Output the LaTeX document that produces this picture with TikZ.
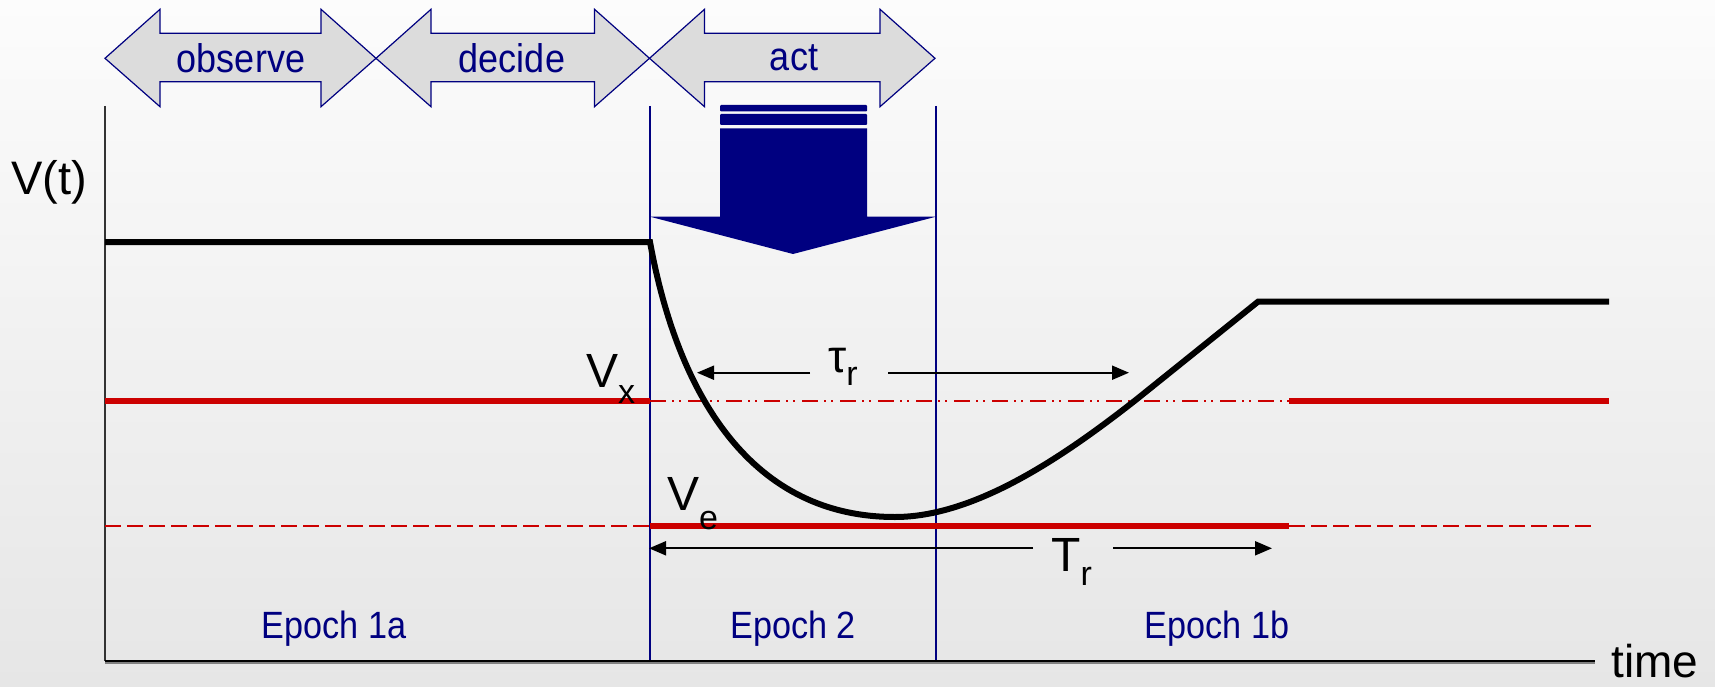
\documentclass[tikz,border=0pt]{standalone}
\usepackage{fontspec}
\setmainfont{Liberation Sans}
\newfontfamily\condfont[FakeStretch=0.9]{Liberation Sans}
\usetikzlibrary{arrows.meta}
\definecolor{navy}{RGB}{0,0,128}
\definecolor{redl}{RGB}{204,0,0}
\definecolor{arrowgray}{RGB}{220,220,220}
\definecolor{bgtop}{RGB}{252,252,252}
\definecolor{bgbot}{RGB}{230,230,230}
\newcommand{\dblarr}[2]{%
  \filldraw[fill=arrowgray, draw=navy, line width=1.2pt, line join=miter]
    (#1,58.3) -- (#1+55,9.3) -- (#1+55,33.3) -- (#2-55,33.3) -- (#2-55,9.3) -- (#2,58.3)
    -- (#2-55,106.7) -- (#2-55,81.7) -- (#1+55,81.7) -- (#1+55,106.7) -- cycle;}
\newcommand{\lowsub}[2]{\raisebox{-#1pt}{\fontsize{34}{34}\selectfont #2}}
\tikzset{
  navytext/.style={inner sep=0pt, text=navy, font=\condfont\fontsize{40}{40}\selectfont},
  epochtext/.style={inner sep=0pt, text=navy, font=\condfont\fontsize{38}{38}\selectfont},
  blacktext/.style={inner sep=0pt, anchor=base west, text=black, font=\fontsize{47}{47}\selectfont},
  dimarrow/.style={line width=2pt, -{Triangle[length=17pt,width=14pt]}},
  thickred/.style={redl, line width=6pt},
  thinred/.style={redl, line width=2pt},
  epochline/.style={navy, line width=1.5pt},
}
\begin{document}
\begin{tikzpicture}[x=1pt,y=-1pt]
\fill[top color=bgtop, bottom color=bgbot] (0,0) rectangle (1715,687);
\useasboundingbox (0,0) rectangle (1715,687);

% phase arrows
\dblarr{105}{376}
\dblarr{376}{649.5}
\dblarr{649.5}{935}
\node[navytext] (observe) at (241,58) {observe};
\node[navytext] (decide) at (512,58) {decide};
\node[navytext] (act) at (794,58) {act};

% axes and epoch boundaries
\draw[black!80, line width=1.5pt] (105,106) -- (105,661);
\draw[epochline] (650,106) -- (650,661);
\draw[epochline] (936,106) -- (936,661);
\draw[black!50, line width=2pt] (105,662.5) -- (1595,662.5);
\draw[black, line width=2pt] (105,660.5) -- (1595,660.5);

% action block arrow
\fill[navy, rounded corners=1pt] (720,105) rectangle (867,111.5);
\fill[navy, rounded corners=1pt] (720,114) rectangle (867,125);
\fill[navy] (720,128.5) -- (867,128.5) -- (867,216.7) -- (936,216.7) -- (793,254)
  -- (650,216.7) -- (720,216.7) -- cycle;

% red reference lines
\draw[thickred] (105,401) -- (650,401);
\draw[thinred, dash pattern=on 16pt off 6pt on 2pt off 5pt on 2pt off 7pt] (650,401) -- (1289,401);
\draw[thickred] (1289,401) -- (1609,401);
\draw[thinred, dash pattern=on 16pt off 6pt] (105,526) -- (650,526);
\draw[thickred] (650,526) -- (1289,526);
\draw[thinred, dash pattern=on 16pt off 6pt] (1289,526) -- (1593,526);

% V(t) curve
\draw[black, line width=6pt, line join=miter] (105,242) -- (650,242)
  .. controls (676,385) and (745,517) .. (895,517)
  .. controls (975,517) and (1063,457) .. (1135.7,400)
  -- (1258,301.7) -- (1609,301.7);

% labels
\node[blacktext] (vt) at (11,195) {V(t)};
\node[blacktext, font=\fontsize{48}{48}\selectfont] (vx) at (586,387) {V\lowsub{16}{x}};
\node[blacktext, font=\fontsize{48}{48}\selectfont] (ve) at (667,510) {V\lowsub{19}{e}};
\node[blacktext, font=\fontsize{46}{46}\selectfont] (tau) at (828,372) {τ\lowsub{13}{r}};
\node[blacktext, font=\fontsize{48}{48}\selectfont] (tr) at (1051,571) {T\lowsub{14}{r}};
\node[blacktext, font=\fontsize{46}{46}\selectfont] (time) at (1611,677) {time};

% dimension arrows
\coordinate (tauA) at (810,372.7);
\coordinate (tauL) at (697,372.7);
\coordinate (tauB) at (888,372.7);
\coordinate (tauR) at (1129,372.7);
\draw[dimarrow] (tauA) -- (tauL);
\draw[dimarrow] (tauB) -- (tauR);
\coordinate (trA) at (1033,548.3);
\coordinate (trL) at (649,548.3);
\coordinate (trB) at (1113,548.3);
\coordinate (trR) at (1272,548.3);
\draw[dimarrow] (trA) -- (trL);
\draw[dimarrow] (trB) -- (trR);

% epochs
\node[epochtext] (e1a) at (334,629) {Epoch 1a};
\node[epochtext] (e2) at (793,629) {Epoch 2};
\node[epochtext] (e1b) at (1217,629) {Epoch 1b};
\end{tikzpicture}
\end{document}
